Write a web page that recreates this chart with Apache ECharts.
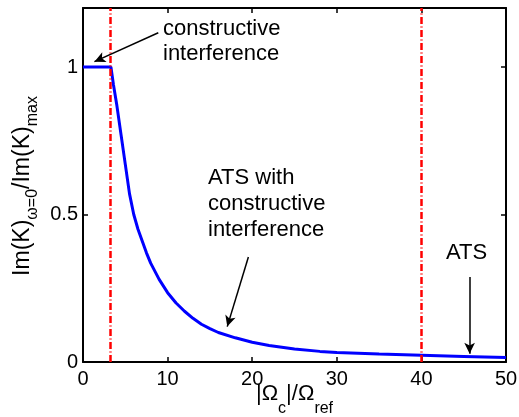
<!DOCTYPE html>
<html>
<head>
<meta charset="utf-8">
<script src="https://cdn.jsdelivr.net/npm/echarts@6/dist/echarts.min.js"></script>
<style>
html,body{margin:0;padding:0;background:#fff;}
#chart{width:519px;height:417px;}
</style>
</head>
<body>
<div id="chart"></div>
<script>
// ---- data ----
const omegaRatio = [0, 3.3, 3.6, 4, 4.5, 5, 5.5, 6, 6.5, 7, 7.5, 8, 9, 10, 11, 12, 13, 14, 15, 16, 18, 20, 22, 25, 28, 30, 35, 40, 45, 50];
const imRatio    = [1, 1, 0.94, 0.87, 0.77, 0.67, 0.57, 0.50, 0.45, 0.41, 0.37, 0.335, 0.28, 0.235, 0.2, 0.172, 0.148, 0.128, 0.113, 0.1, 0.082, 0.067, 0.056, 0.044, 0.036, 0.032, 0.027, 0.023, 0.019, 0.015];
const boundaries = [3.25, 40];
const yTickValues = [0, 0.5, 1];
const xTickValues = [0, 10, 20, 30, 40, 50];
// arrows: [tailX, tailY, headX, headY] in data units
const arrow1 = [8.9, 1.116, 1.35, 1.018];
const arrow2 = [19.55, 0.356, 17.05, 0.12];
const arrow3 = [45.7, 0.288, 45.7, 0.028];
const label1 = 'constructive\ninterference';
const label2 = 'ATS with\nconstructive\ninterference';
const label3 = 'ATS';
// axis titles: [text, isSubscript]
const xTitle = [['|Ω', false], ['c', true], ['|/Ω', false], ['ref', true]];
const yTitle = [['Im(K)', false], ['ω=0', true], ['/Im(K)', false], ['max', true]];

const FONT = 'Liberation Sans, Arial, sans-serif';
const chart = echarts.init(document.getElementById('chart'));

const seriesData = omegaRatio.map((x, i) => [x, imRatio[i]]);

function arrowItem(a) {
  return [
    { coord: [a[0], a[1]], symbol: 'none' },
    { coord: [a[2], a[3]], symbol: 'arrow', symbolSize: [8, 11],
      lineStyle: { color: '#000', width: 1.5, type: 'solid' } }
  ];
}

const mctx = document.createElement('canvas').getContext('2d');
function measure(text, size) { mctx.font = size + 'px ' + FONT; return mctx.measureText(text).width; }

// builds a title group from pieces; baseline at local y=0, centred at local x=0
function titleGroup(pieces, mainSize, subSize, subOffset, x, y, rotation) {
  const widths = pieces.map(p => measure(p[0], p[1] ? subSize : mainSize));
  const total = widths.reduce((a, b) => a + b, 0);
  let cur = -total / 2;
  const children = pieces.map((p, i) => {
    const size = p[1] ? subSize : mainSize;
    const el = {
      type: 'text', x: cur, y: (p[1] ? subOffset : 0) - 0.3465 * size, silent: true,
      style: { text: p[0], font: size + 'px ' + FONT, fill: '#000', verticalAlign: 'middle', align: 'left' }
    };
    cur += widths[i];
    return el;
  });
  return { type: 'group', x: x, y: y, rotation: rotation, children: children, silent: true };
}

const redStyle = { color: '#ff0000', width: 2.5, type: [7, 2.5, 1, 2.5] };
const axisLineStyle = { show: true, onZero: false, lineStyle: { color: '#000', width: 2 } };
const tickStyle = { show: true, inside: true, length: 5, lineStyle: { color: '#000', width: 1.5 } };

const option = {
  animation: false,
  backgroundColor: '#fff',
  grid: { left: 83, right: 13, top: 8, bottom: 55, containLabel: false, outerBoundsMode: 'none' },
  xAxis: [{
    type: 'value', min: 0, max: 50, interval: 10, position: 'bottom',
    axisLine: axisLineStyle,
    axisTick: tickStyle,
    axisLabel: { color: '#000', fontFamily: FONT, fontSize: 20, margin: 7 },
    splitLine: { show: false }
  }, {
    type: 'value', min: 0, max: 50, interval: 10, position: 'top',
    axisLine: axisLineStyle,
    axisTick: tickStyle,
    axisLabel: { show: false },
    splitLine: { show: false }
  }],
  yAxis: [{
    type: 'value', min: 0, max: 1.2, interval: 0.5, position: 'left',
    axisLine: axisLineStyle,
    axisTick: Object.assign({ customValues: yTickValues }, tickStyle),
    axisLabel: { color: '#000', fontFamily: FONT, fontSize: 20, margin: 5, customValues: yTickValues },
    splitLine: { show: false }
  }, {
    type: 'value', min: 0, max: 1.2, interval: 0.5, position: 'right',
    axisLine: axisLineStyle,
    axisTick: Object.assign({ customValues: yTickValues }, tickStyle),
    axisLabel: { show: false },
    splitLine: { show: false }
  }],
  series: [{
    type: 'line',
    xAxisIndex: 0, yAxisIndex: 0,
    data: seriesData,
    showSymbol: false,
    symbol: 'none',
    lineStyle: { color: '#0000ff', width: 3 },
    z: 3,
    markLine: {
      silent: true,
      symbol: ['none', 'none'],
      label: { show: false },
      emphasis: { disabled: true },
      lineStyle: redStyle,
      data: [
        { xAxis: boundaries[0], lineStyle: redStyle },
        { xAxis: boundaries[1], lineStyle: redStyle },
        arrowItem(arrow1),
        arrowItem(arrow2),
        arrowItem(arrow3)
      ]
    }
  }],
  graphic: [
    { type: 'text', left: 163, top: 16, silent: true,
      style: { text: label1, font: '22px ' + FONT, fill: '#000', lineHeight: 25 } },
    { type: 'text', left: 208, top: 165, silent: true,
      style: { text: label2, font: '22px ' + FONT, fill: '#000', lineHeight: 25.8 } },
    { type: 'text', left: 446, top: 240, silent: true,
      style: { text: label3, font: '22px ' + FONT, fill: '#000', lineHeight: 25 } },
    titleGroup(xTitle, 22, 16, 12, 294.5, 402, 0),
    titleGroup(yTitle, 23, 16, 7, 31, 186, Math.PI / 2)
  ]
};
chart.setOption(option);
</script>
</body>
</html>
